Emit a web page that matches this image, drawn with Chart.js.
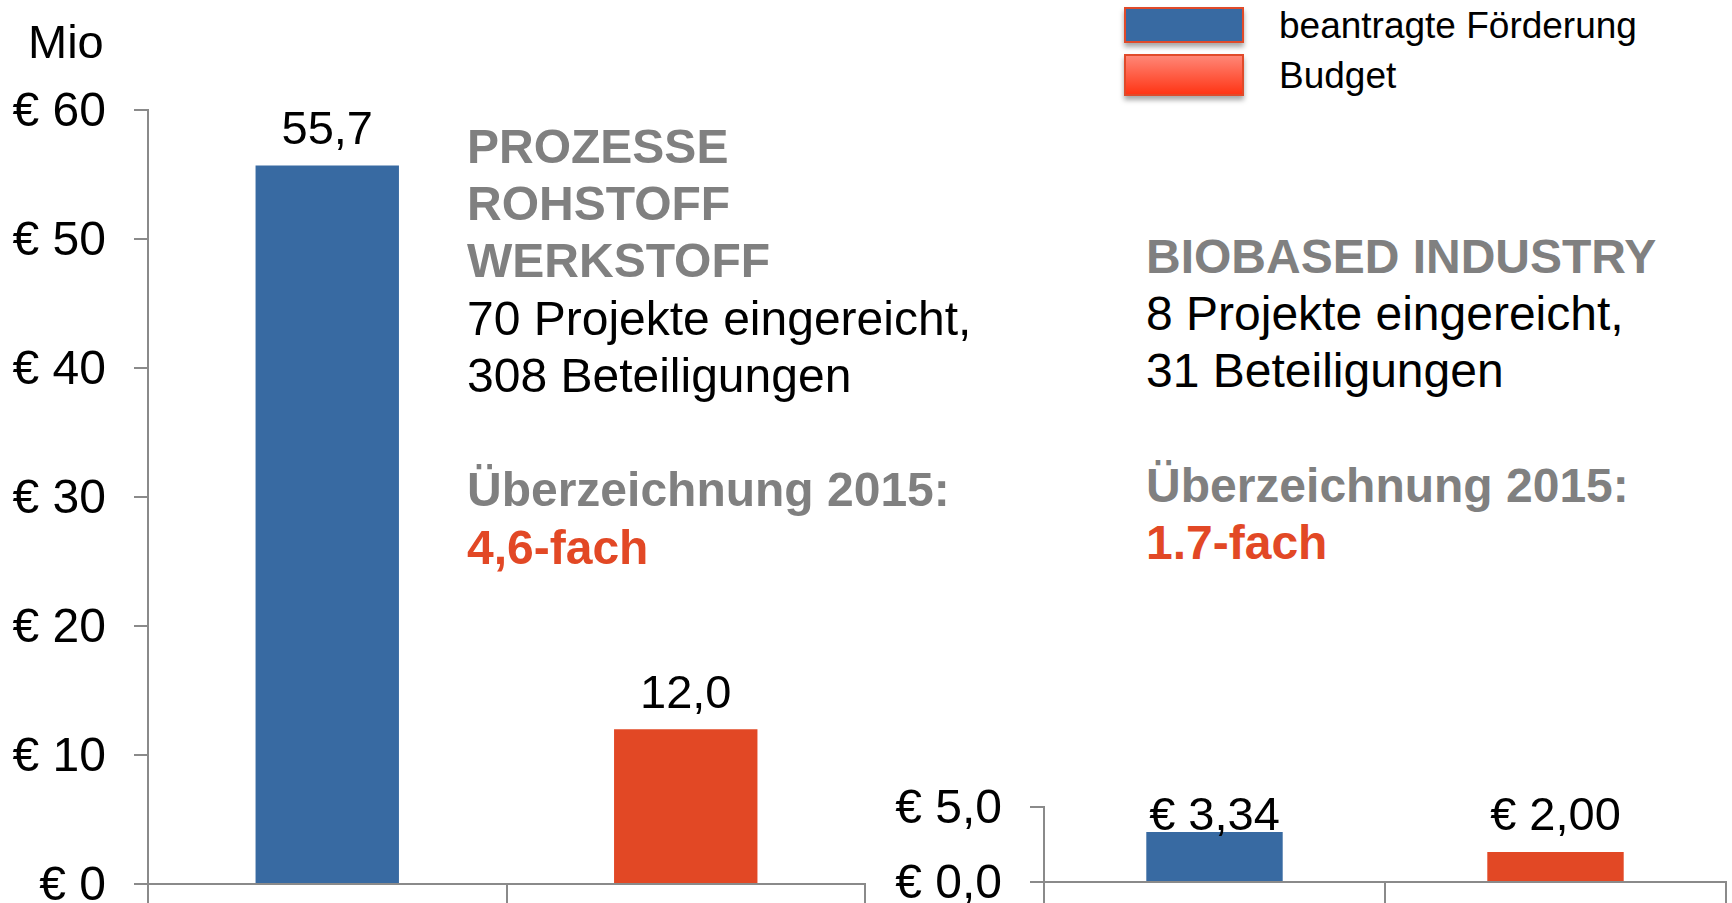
<!DOCTYPE html>
<html lang="de">
<head>
<meta charset="utf-8">
<title>Überzeichnung 2015</title>
<script src="https://cdn.jsdelivr.net/npm/chart.js@4.4.0/dist/chart.umd.min.js"></script>
<style>
  body { margin: 0; background: #fff; font-family: "Liberation Sans", Arial, sans-serif; }
  .stage { position: relative; width: 1732px; height: 903px; overflow: hidden; }
  canvas { position: absolute; }
  #chartProzesse { left: 0; top: 0; }
  #chartBiobased { left: 850px; top: 700px; }
  .mio { position: absolute; left: 28px; top: 18px; font-size: 47px; line-height: 47px; }
  .block { position: absolute; font-size: 48px; line-height: 57.3px; color: #000; white-space: nowrap; }
  .grau { color: #808080; font-weight: bold; }
  .rot { color: #e24825; font-weight: bold; }
  .swatch { position: absolute; left: 1124px; width: 120px; box-sizing: border-box;
            border: 2px solid #e04a2a; box-shadow: 0 4px 5px rgba(0,0,0,0.35); }
  .legtext { position: absolute; left: 1279px; font-size: 37px; line-height: 37px; white-space: nowrap; }
</style>
</head>
<body>
<div class="stage">
  <canvas id="chartProzesse" width="900" height="903"></canvas>
  <canvas id="chartBiobased" width="882" height="203"></canvas>

  <div class="mio">Mio</div>

  <!-- Legende -->
  <div class="swatch" style="top:7px;height:36px;background:#386aa2;"></div>
  <div class="swatch" style="top:54px;height:42px;background:linear-gradient(#ff8676,#ff3515);"></div>
  <div class="legtext" id="leg0" style="top:7px;"></div>
  <div class="legtext" id="leg1" style="top:57px;"></div>

  <!-- Textblöcke -->
  <div class="block" style="left:467px;top:117.7px;">
    <span class="grau">PROZESSE<br>ROHSTOFF<br>WERKSTOFF</span><br>
    70 Projekte eingereicht,<br>308 Beteiligungen<br><br>
    <span class="grau">Überzeichnung 2015:</span><br>
    <span class="rot">4,6-fach</span>
  </div>
  <div class="block" style="left:1146px;top:227.7px;">
    <span class="grau">BIOBASED INDUSTRY</span><br>
    8 Projekte eingereicht,<br>31 Beteiligungen<br><br>
    <span class="grau">Überzeichnung 2015:</span><br>
    <span class="rot">1.7-fach</span>
  </div>
</div>

<script>
// Daten
const categories = ['beantragte Förderung', 'Budget'];
const prozesseValues = [55.7, 12.0];   // Mio €
const biobasedValues = [3.34, 2.00];   // Mio €
const prozesseTicks = [0, 10, 20, 30, 40, 50, 60];
const biobasedTicks = [0, 5];

// Farben
const barColors = ['#386aa2', '#e24825'];
const axisGray = '#8a8a8a';
const fontFamily = '"Liberation Sans", Arial, sans-serif';

Chart.defaults.font.family = fontFamily;
Chart.defaults.animation = false;

document.getElementById('leg0').textContent = categories[0];
document.getElementById('leg1').textContent = categories[1];

// Beschriftung der Balken (eigenes kleines Plugin)
function makeWertLabels(format, gap, labelValue) {
  return {
    id: 'wertLabels',
    afterDatasetsDraw(chart) {
      const ctx = chart.ctx;
      const meta = chart.getDatasetMeta(0);
      const yScale = chart.scales.y;
      ctx.save();
      ctx.font = '47px ' + fontFamily;
      ctx.fillStyle = '#000';
      ctx.textAlign = 'center';
      ctx.textBaseline = 'alphabetic';
      meta.data.forEach((bar, i) => {
        const v = chart.data.datasets[0].data[i];
        const y = labelValue != null ? yScale.getPixelForValue(labelValue) : bar.y - gap;
        ctx.fillText(format(v), bar.x, y);
      });
      ctx.restore();
    }
  };
}

// Gemeinsame Achsen-Optionen
function makeScales(tickValues, yWidth, xHeight, tickFormat) {
  return {
    x: {
      ticks: { display: false },
      grid: { drawOnChartArea: false, tickLength: xHeight, color: axisGray, lineWidth: 2 },
      border: { color: axisGray, width: 2 },
      afterFit: s => { s.height = xHeight; s.paddingLeft = 0; s.paddingRight = 0; }
    },
    y: {
      min: tickValues[0],
      max: tickValues[tickValues.length - 1],
      afterBuildTicks: s => { s.ticks = tickValues.map(v => ({ value: v })); },
      ticks: { padding: 28, labelOffset: 3, color: '#000', font: { size: 48 }, callback: tickFormat },
      grid: { drawOnChartArea: false, tickLength: 14, color: axisGray, lineWidth: 2 },
      border: { color: axisGray, width: 2 },
      afterFit: s => { s.width = yWidth; s.paddingTop = 0; s.paddingBottom = 0; }
    }
  };
}

// Linkes Diagramm: Prozesse / Rohstoff / Werkstoff
new Chart(document.getElementById('chartProzesse'), {
  type: 'bar',
  data: {
    labels: categories,
    datasets: [{ data: prozesseValues, backgroundColor: barColors,
                 barPercentage: 0.4, categoryPercentage: 1 }]
  },
  options: {
    responsive: false,
    layout: { padding: { top: 110, right: 35, bottom: 0, left: 0 } },
    plugins: { legend: { display: false }, tooltip: { enabled: false } },
    scales: makeScales(prozesseTicks, 148, 19, v => '€ ' + v)
  },
  plugins: [makeWertLabels(v => v.toFixed(1).replace('.', ','), 21.5, null)]
});

// Rechtes Diagramm: Biobased Industry
new Chart(document.getElementById('chartBiobased'), {
  type: 'bar',
  data: {
    labels: categories,
    datasets: [{ data: biobasedValues, backgroundColor: barColors,
                 barPercentage: 0.4, categoryPercentage: 1 }]
  },
  options: {
    responsive: false,
    layout: { padding: { top: 107, right: 6, bottom: 0, left: 0 } },
    plugins: { legend: { display: false }, tooltip: { enabled: false } },
    scales: makeScales(biobasedTicks, 194, 21, v => '€ ' + v.toFixed(1).replace('.', ','))
  },
  plugins: [makeWertLabels(v => '€ ' + v.toFixed(2).replace('.', ','), 0, 3.5)]
});
</script>
</body>
</html>
